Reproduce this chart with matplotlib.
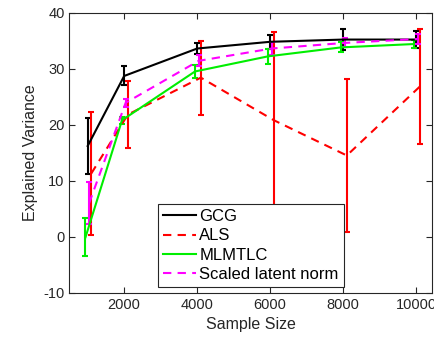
import matplotlib.pyplot as plt
from matplotlib.lines import Line2D
import numpy as np

plt.rcParams['font.family'] = ['Liberation Sans', 'DejaVu Sans']
plt.rcParams['axes.unicode_minus'] = False

sizes = np.array([1000, 2000, 4000, 6000, 8000, 10000])

gcg_mean = [16.2, 28.7, 33.6, 34.8, 35.2, 35.2]
gcg_err = [5.0, 1.7, 0.9, 1.3, 1.8, 1.5]

als_mean = [11.3, 21.8, 28.4, 20.8, 14.5, 26.8]
als_err = [11.0, 6.0, 6.6, 15.8, 13.6, 10.2]

mlmtlc_mean = [-0.1, 20.8, 29.5, 32.2, 33.8, 34.4]
mlmtlc_err = [3.4, 0.6, 1.1, 1.4, 0.9, 0.7]

sln_mean = [6.0, 23.9, 31.4, 33.6, 34.6, 35.3]
sln_err = [3.8, 0.7, 1.0, 1.2, 0.8, 0.9]

labels = ['GCG', 'ALS', 'MLMTLC', 'Scaled latent norm']
colors = ['black', 'red', '#00ee00', 'magenta']
styles = ['-', '--', '-', '--']

fig = plt.figure(figsize=(4.34, 3.39), dpi=100)
ax = fig.add_axes([0.16, 0.1366, 0.835, 0.826])

kw = dict(linewidth=1.5, capsize=2.5, elinewidth=1.5, capthick=1.5)
ax.errorbar(sizes, gcg_mean, yerr=gcg_err, color=colors[0], **kw)
ax.errorbar(sizes + 100, als_mean, yerr=als_err, color=colors[1], linestyle='--',
            dashes=(4, 3), **kw)
ax.errorbar(sizes - 60, mlmtlc_mean, yerr=mlmtlc_err, color=colors[2], **kw)
ax.errorbar(sizes + 40, sln_mean, yerr=sln_err, color=colors[3], linestyle='--',
            dashes=(4, 3), **kw)

ax.set_xlim(500, 10430)
ax.set_ylim(-10, 40)
ax.set_xticks([2000, 4000, 6000, 8000, 10000])
ax.set_yticks([-10, 0, 10, 20, 30, 40])
ax.tick_params(direction='in', top=True, right=True, labelsize=10.5,
               colors='#262626', length=4)
for s in ax.spines.values():
    s.set_color('#262626')
ax.set_xlabel('Sample Size', fontsize=11.5, color='#262626')
ax.set_ylabel('Explained Variance', fontsize=11.5, color='#262626')

handles = [Line2D([], [], color=c, linestyle=ls, linewidth=1.5,
                  dashes=(4, 3) if ls == '--' else (None, None))
           for c, ls in zip(colors, styles)]
leg = ax.legend(handles, labels, loc='lower center', bbox_to_anchor=(0.5, 0.02),
                fontsize=12, frameon=True, fancybox=False, edgecolor='#262626',
                handlelength=2.0, handletextpad=0.2, borderpad=0.3,
                labelspacing=0.26, borderaxespad=0, framealpha=1)
leg.get_frame().set_linewidth(0.8)

fig.savefig('out.png', dpi=100)
